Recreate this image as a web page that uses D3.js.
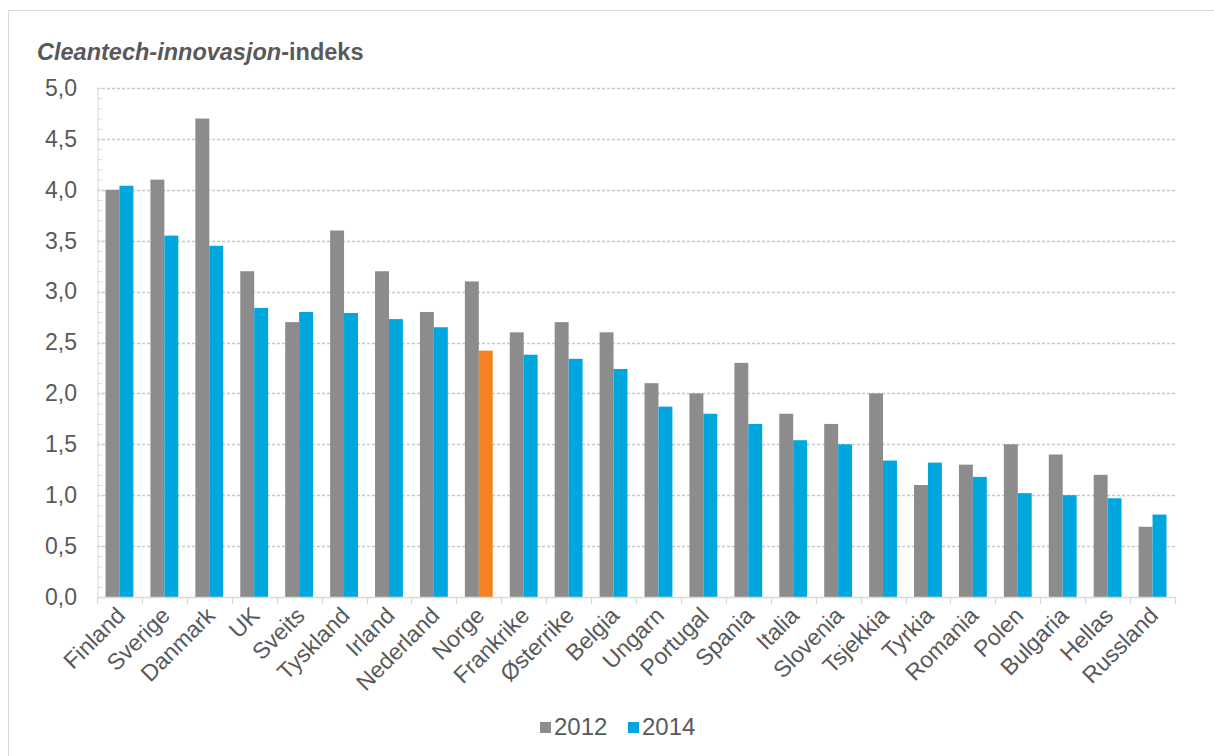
<!DOCTYPE html>
<html>
<head>
<meta charset="utf-8">
<script src="https://cdn.jsdelivr.net/npm/d3@7"></script>
<style>
  html, body { margin: 0; padding: 0; background: #fff; }
  svg { display: block; font-family: "Liberation Sans", Arial, sans-serif; }
</style>
</head>
<body>
<svg id="chart" width="1214" height="756"></svg>
<script>
// Cleantech innovation index per country, 2012 vs 2014
const categories = ["Finland", "Sverige", "Danmark", "UK", "Sveits", "Tyskland", "Irland",
  "Nederland", "Norge", "Frankrike", "Østerrike", "Belgia", "Ungarn", "Portugal", "Spania",
  "Italia", "Slovenia", "Tsjekkia", "Tyrkia", "Romania", "Polen", "Bulgaria", "Hellas", "Russland"];
const series = ["2012", "2014"];
const values2012 = [4.0, 4.1, 4.7, 3.2, 2.7, 3.6, 3.2, 2.8, 3.1, 2.6, 2.7, 2.6, 2.1, 2.0, 2.3,
  1.8, 1.7, 2.0, 1.1, 1.3, 1.5, 1.4, 1.2, 0.69];
const values2014 = [4.04, 3.55, 3.45, 2.84, 2.8, 2.79, 2.73, 2.65, 2.42, 2.38, 2.34, 2.24, 1.87,
  1.8, 1.7, 1.54, 1.5, 1.34, 1.32, 1.18, 1.02, 1.0, 0.97, 0.81];
const yTicks = [0, 0.5, 1, 1.5, 2, 2.5, 3, 3.5, 4, 4.5, 5];
const highlight = "Norge";

const colors = { "2012": "#8c8c8c", "2014": "#00a6de" };
const highlightColor = "#f58220";
const textColor = "#595959";
const axisColor = "#d9d9d9";

const svg = d3.select("#chart");

// outer frame
svg.append("rect")
  .attr("x", 8.5).attr("y", 10.5)
  .attr("width", 1240).attr("height", 780)
  .attr("fill", "none").attr("stroke", "#dadada");

// title
const title = svg.append("text")
  .attr("x", 37).attr("y", 60)
  .attr("fill", textColor)
  .style("font-size", "23.5px").style("font-weight", "bold");
title.append("tspan").style("font-style", "italic").text("Cleantech-innovasjon");
title.append("tspan").text("-indeks");

const plot = { left: 97, right: 1175, top: 88, bottom: 597 };

const x0 = d3.scaleBand().domain(categories).range([plot.left, plot.right]).padding(0);
const groupW = x0.bandwidth() * 0.62;
const x1 = d3.scaleBand().domain(series).range([0, groupW]).padding(0);
const y = d3.scaleLinear().domain([0, 5]).range([plot.bottom, plot.top]);

// dashed gridlines
svg.append("g")
  .selectAll("line")
  .data(yTicks.filter(t => t > 0))
  .join("line")
  .attr("x1", plot.left).attr("x2", plot.right)
  .attr("y1", d => Math.round(y(d)) + 0.5).attr("y2", d => Math.round(y(d)) + 0.5)
  .attr("stroke", "#c8c8c8").attr("stroke-width", 1.3)
  .attr("stroke-dasharray", "3,2");

// y axis with minor ticks
const yAxisMinor = d3.axisRight(y)
  .tickValues(d3.range(0, 5.001, 0.1))
  .tickSize(5).tickFormat("");
const gyMinor = svg.append("g").attr("transform", `translate(${plot.left + 0.5},0)`).call(yAxisMinor);
gyMinor.selectAll("line").attr("stroke", axisColor);
gyMinor.select(".domain").attr("stroke", axisColor);

const fmt = d => d3.format(".1f")(d).replace(".", ",");
const yAxis = d3.axisLeft(y).tickValues(yTicks).tickSize(0).tickPadding(20).tickFormat(fmt);
const gy = svg.append("g").attr("transform", `translate(${plot.left},0)`).call(yAxis);
gy.select(".domain").remove();
gy.selectAll("text").attr("fill", textColor).style("font-size", "23px")
  .style("font-family", "'Liberation Sans', Arial, sans-serif");

// bars
const rows = categories.map((c, i) => ({ c, vals: [values2012[i], values2014[i]] }));
const groups = svg.append("g")
  .selectAll("g")
  .data(rows)
  .join("g")
  .attr("transform", d => `translate(${x0(d.c) + (x0.bandwidth() - groupW) / 2},0)`);
groups.selectAll("rect")
  .data(d => series.map((s, k) => ({ s, v: d.vals[k], c: d.c })))
  .join("rect")
  .attr("x", d => x1(d.s))
  .attr("width", x1.bandwidth())
  .attr("y", d => y(d.v))
  .attr("height", d => y(0) - y(d.v))
  .attr("fill", d => (d.c === highlight && d.s === "2014") ? highlightColor : colors[d.s]);

// x axis with category boundary ticks
const xAxisLine = svg.append("g");
xAxisLine.append("line")
  .attr("x1", plot.left).attr("x2", plot.right)
  .attr("y1", plot.bottom + 0.5).attr("y2", plot.bottom + 0.5)
  .attr("stroke", axisColor).attr("stroke-width", 1.5);
xAxisLine.selectAll("line.tick")
  .data(categories.map(c => x0(c)).concat([plot.right]))
  .join("line")
  .attr("class", "tick")
  .attr("x1", d => Math.round(d) + 0.5).attr("x2", d => Math.round(d) + 0.5)
  .attr("y1", plot.bottom).attr("y2", plot.bottom + 7)
  .attr("stroke", axisColor).attr("stroke-width", 1.2);

// rotated category labels
svg.append("g")
  .selectAll("text")
  .data(categories)
  .join("text")
  .attr("transform", d => `translate(${x0(d) + x0.bandwidth() / 2 + 7},${plot.bottom + 20}) rotate(-45)`)
  .attr("text-anchor", "end")
  .attr("fill", textColor)
  .style("font-size", "23px")
  .text(d => d);

// legend
const legend = svg.append("g");
const legendItems = [{ s: "2012", x: 540 }, { s: "2014", x: 628 }];
legendItems.forEach(it => {
  legend.append("rect").attr("x", it.x).attr("y", 722).attr("width", 11).attr("height", 11)
    .attr("fill", colors[it.s]);
  legend.append("text").attr("x", it.x + 14).attr("y", 735)
    .attr("fill", textColor).style("font-size", "24px").text(it.s);
});
</script>
</body>
</html>
